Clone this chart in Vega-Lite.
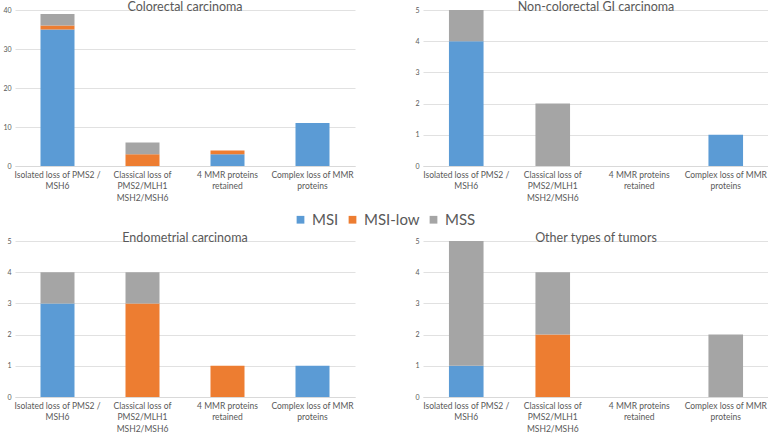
{
  "$schema": "https://vega.github.io/schema/vega-lite/v6.json",
  "background": "white",
  "padding": {"left": 2, "top": 0, "right": 0, "bottom": 0},
  "autosize": {"type": "pad"},
  "datasets": {
    "d": [
      {"panel": "Colorectal carcinoma", "category": "Isolated loss of PMS2 / MSH6", "status": "MSI", "count": 35},
      {"panel": "Colorectal carcinoma", "category": "Isolated loss of PMS2 / MSH6", "status": "MSI-low", "count": 1},
      {"panel": "Colorectal carcinoma", "category": "Isolated loss of PMS2 / MSH6", "status": "MSS", "count": 3},
      {"panel": "Colorectal carcinoma", "category": "Classical loss of PMS2/MLH1 MSH2/MSH6", "status": "MSI-low", "count": 3},
      {"panel": "Colorectal carcinoma", "category": "Classical loss of PMS2/MLH1 MSH2/MSH6", "status": "MSS", "count": 3},
      {"panel": "Colorectal carcinoma", "category": "4 MMR proteins retained", "status": "MSI", "count": 3},
      {"panel": "Colorectal carcinoma", "category": "4 MMR proteins retained", "status": "MSI-low", "count": 1},
      {"panel": "Colorectal carcinoma", "category": "Complex loss of MMR proteins", "status": "MSI", "count": 11},
      {"panel": "Non-colorectal GI carcinoma", "category": "Isolated loss of PMS2 / MSH6", "status": "MSI", "count": 4},
      {"panel": "Non-colorectal GI carcinoma", "category": "Isolated loss of PMS2 / MSH6", "status": "MSS", "count": 1},
      {"panel": "Non-colorectal GI carcinoma", "category": "Classical loss of PMS2/MLH1 MSH2/MSH6", "status": "MSS", "count": 2},
      {"panel": "Non-colorectal GI carcinoma", "category": "Complex loss of MMR proteins", "status": "MSI", "count": 1},
      {"panel": "Endometrial carcinoma", "category": "Isolated loss of PMS2 / MSH6", "status": "MSI", "count": 3},
      {"panel": "Endometrial carcinoma", "category": "Isolated loss of PMS2 / MSH6", "status": "MSS", "count": 1},
      {"panel": "Endometrial carcinoma", "category": "Classical loss of PMS2/MLH1 MSH2/MSH6", "status": "MSI-low", "count": 3},
      {"panel": "Endometrial carcinoma", "category": "Classical loss of PMS2/MLH1 MSH2/MSH6", "status": "MSS", "count": 1},
      {"panel": "Endometrial carcinoma", "category": "4 MMR proteins retained", "status": "MSI-low", "count": 1},
      {"panel": "Endometrial carcinoma", "category": "Complex loss of MMR proteins", "status": "MSI", "count": 1},
      {"panel": "Other types of tumors", "category": "Isolated loss of PMS2 / MSH6", "status": "MSI", "count": 1},
      {"panel": "Other types of tumors", "category": "Isolated loss of PMS2 / MSH6", "status": "MSS", "count": 4},
      {"panel": "Other types of tumors", "category": "Classical loss of PMS2/MLH1 MSH2/MSH6", "status": "MSI-low", "count": 2},
      {"panel": "Other types of tumors", "category": "Classical loss of PMS2/MLH1 MSH2/MSH6", "status": "MSS", "count": 2},
      {"panel": "Other types of tumors", "category": "Complex loss of MMR proteins", "status": "MSS", "count": 2}
    ]
  },
  "config": {
    "font": "Lato",
    "view": {"stroke": null},
    "title": {"fontSize": 12.5, "fontWeight": "normal", "color": "#595959", "offset": -7, "anchor": "middle"},
    "axis": {"labelColor": "#595959", "ticks": false, "title": null, "labelFont": "Lato"},
    "axisX": {"domainColor": "#D9D9D9", "domainWidth": 1, "grid": false, "labelAngle": 0, "labelFontSize": 8.5, "labelLineHeight": 11.5, "labelPadding": 4, "labelOverlap": false, "labelLimit": 200},
    "axisY": {"domain": false, "gridColor": "#D9D9D9", "gridWidth": 0.8, "labelFontSize": 7, "labelPadding": 4, "minExtent": 11, "maxExtent": 11},
    "legend": {"orient": "none", "legendX": 278, "legendY": 202, "direction": "horizontal", "symbolType": "square", "symbolSize": 60, "symbolStrokeWidth": 0, "labelFontSize": 15, "labelColor": "#595959", "columnPadding": 6, "labelOffset": 4, "title": null}
  },
  "spacing": 29,
  "vconcat": [
    {
      "spacing": 57,
      "hconcat": [
        {
          "title": "Colorectal carcinoma",
          "width": 340, "height": 156,
          "data": {"name": "d"},
          "transform": [{"filter": "datum.panel == 'Colorectal carcinoma'"}],
          "mark": {"type": "bar"},
          "encoding": {
            "x": {"field": "category", "type": "nominal", "sort": ["Isolated loss of PMS2 / MSH6", "Classical loss of PMS2/MLH1 MSH2/MSH6", "4 MMR proteins retained", "Complex loss of MMR proteins"], "scale": {"paddingInner": 0.6, "paddingOuter": 0.3},
              "axis": {"labelExpr": "datum.value == 'Isolated loss of PMS2 / MSH6' ? ['Isolated loss of PMS2 /', 'MSH6'] : datum.value == 'Classical loss of PMS2/MLH1 MSH2/MSH6' ? ['Classical loss of', 'PMS2/MLH1', 'MSH2/MSH6'] : datum.value == '4 MMR proteins retained' ? ['4 MMR proteins', 'retained'] : ['Complex loss of MMR', 'proteins']"}},
            "y": {"field": "count", "type": "quantitative", "aggregate": "sum", "scale": {"domain": [0, 40], "nice": false}, "axis": {"values": [0, 10, 20, 30, 40]}},
            "color": {"field": "status", "type": "nominal", "scale": {"domain": ["MSI", "MSI-low", "MSS"], "range": ["#5B9BD5", "#ED7D31", "#A5A5A5"]}},
            "order": {"field": "status", "sort": "ascending"}
          }
        },
        {
          "title": "Non-colorectal GI carcinoma",
          "width": 346, "height": 156,
          "data": {"name": "d"},
          "transform": [{"filter": "datum.panel == 'Non-colorectal GI carcinoma'"}],
          "mark": {"type": "bar"},
          "encoding": {
            "x": {"field": "category", "type": "nominal", "sort": ["Isolated loss of PMS2 / MSH6", "Classical loss of PMS2/MLH1 MSH2/MSH6", "4 MMR proteins retained", "Complex loss of MMR proteins"], "scale": {"domain": ["Isolated loss of PMS2 / MSH6", "Classical loss of PMS2/MLH1 MSH2/MSH6", "4 MMR proteins retained", "Complex loss of MMR proteins"], "paddingInner": 0.6, "paddingOuter": 0.3},
              "axis": {"labelExpr": "datum.value == 'Isolated loss of PMS2 / MSH6' ? ['Isolated loss of PMS2 /', 'MSH6'] : datum.value == 'Classical loss of PMS2/MLH1 MSH2/MSH6' ? ['Classical loss of', 'PMS2/MLH1', 'MSH2/MSH6'] : datum.value == '4 MMR proteins retained' ? ['4 MMR proteins', 'retained'] : ['Complex loss of MMR', 'proteins']"}},
            "y": {"field": "count", "type": "quantitative", "aggregate": "sum", "scale": {"domain": [0, 5], "nice": false}, "axis": {"values": [0, 1, 2, 3, 4, 5]}},
            "color": {"field": "status", "type": "nominal", "scale": {"domain": ["MSI", "MSI-low", "MSS"], "range": ["#5B9BD5", "#ED7D31", "#A5A5A5"]}},
            "order": {"field": "status", "sort": "ascending"}
          }
        }
      ]
    },
    {
      "spacing": 57,
      "hconcat": [
        {
          "title": "Endometrial carcinoma",
          "width": 340, "height": 156,
          "data": {"name": "d"},
          "transform": [{"filter": "datum.panel == 'Endometrial carcinoma'"}],
          "mark": {"type": "bar"},
          "encoding": {
            "x": {"field": "category", "type": "nominal", "sort": ["Isolated loss of PMS2 / MSH6", "Classical loss of PMS2/MLH1 MSH2/MSH6", "4 MMR proteins retained", "Complex loss of MMR proteins"], "scale": {"paddingInner": 0.6, "paddingOuter": 0.3},
              "axis": {"labelExpr": "datum.value == 'Isolated loss of PMS2 / MSH6' ? ['Isolated loss of PMS2 /', 'MSH6'] : datum.value == 'Classical loss of PMS2/MLH1 MSH2/MSH6' ? ['Classical loss of', 'PMS2/MLH1', 'MSH2/MSH6'] : datum.value == '4 MMR proteins retained' ? ['4 MMR proteins', 'retained'] : ['Complex loss of MMR', 'proteins']"}},
            "y": {"field": "count", "type": "quantitative", "aggregate": "sum", "scale": {"domain": [0, 5], "nice": false}, "axis": {"values": [0, 1, 2, 3, 4, 5]}},
            "color": {"field": "status", "type": "nominal", "scale": {"domain": ["MSI", "MSI-low", "MSS"], "range": ["#5B9BD5", "#ED7D31", "#A5A5A5"]}},
            "order": {"field": "status", "sort": "ascending"}
          }
        },
        {
          "title": "Other types of tumors",
          "width": 346, "height": 156,
          "data": {"name": "d"},
          "transform": [{"filter": "datum.panel == 'Other types of tumors'"}],
          "mark": {"type": "bar"},
          "encoding": {
            "x": {"field": "category", "type": "nominal", "sort": ["Isolated loss of PMS2 / MSH6", "Classical loss of PMS2/MLH1 MSH2/MSH6", "4 MMR proteins retained", "Complex loss of MMR proteins"], "scale": {"domain": ["Isolated loss of PMS2 / MSH6", "Classical loss of PMS2/MLH1 MSH2/MSH6", "4 MMR proteins retained", "Complex loss of MMR proteins"], "paddingInner": 0.6, "paddingOuter": 0.3},
              "axis": {"labelExpr": "datum.value == 'Isolated loss of PMS2 / MSH6' ? ['Isolated loss of PMS2 /', 'MSH6'] : datum.value == 'Classical loss of PMS2/MLH1 MSH2/MSH6' ? ['Classical loss of', 'PMS2/MLH1', 'MSH2/MSH6'] : datum.value == '4 MMR proteins retained' ? ['4 MMR proteins', 'retained'] : ['Complex loss of MMR', 'proteins']"}},
            "y": {"field": "count", "type": "quantitative", "aggregate": "sum", "scale": {"domain": [0, 5], "nice": false}, "axis": {"values": [0, 1, 2, 3, 4, 5]}},
            "color": {"field": "status", "type": "nominal", "scale": {"domain": ["MSI", "MSI-low", "MSS"], "range": ["#5B9BD5", "#ED7D31", "#A5A5A5"]}},
            "order": {"field": "status", "sort": "ascending"}
          }
        }
      ]
    }
  ]
}
